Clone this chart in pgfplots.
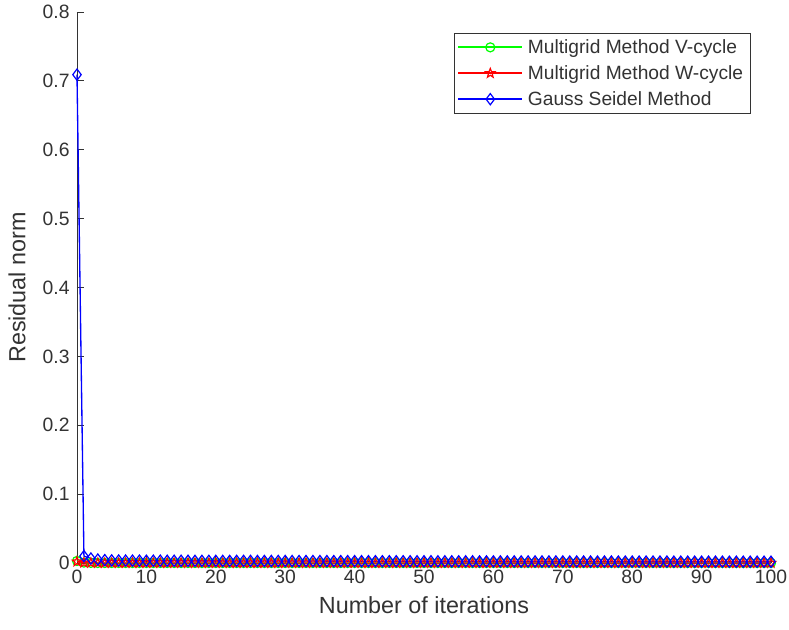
\documentclass[border=0pt]{standalone}
\usepackage{pgfplots}
\pgfplotsset{compat=1.18}
\usepackage{pgfplotstable}
\usepackage{fontspec}
\setmainfont{Liberation Sans}
\usetikzlibrary{calc}
\definecolor{txt}{RGB}{51,51,51}
\definecolor{mgreen}{RGB}{0,255,0}
\definecolor{mred}{RGB}{255,0,0}
\definecolor{mblue}{RGB}{0,0,255}
\pgfdeclareplotmark{pentagram}{%
  \pgfpathmoveto{\pgfpointpolar{90}{\pgfplotmarksize}}%
  \pgfpathlineto{\pgfpointpolar{126}{0.42\pgfplotmarksize}}%
  \pgfpathlineto{\pgfpointpolar{162}{\pgfplotmarksize}}%
  \pgfpathlineto{\pgfpointpolar{198}{0.42\pgfplotmarksize}}%
  \pgfpathlineto{\pgfpointpolar{234}{\pgfplotmarksize}}%
  \pgfpathlineto{\pgfpointpolar{270}{0.42\pgfplotmarksize}}%
  \pgfpathlineto{\pgfpointpolar{306}{\pgfplotmarksize}}%
  \pgfpathlineto{\pgfpointpolar{342}{0.42\pgfplotmarksize}}%
  \pgfpathlineto{\pgfpointpolar{18}{\pgfplotmarksize}}%
  \pgfpathlineto{\pgfpointpolar{54}{0.42\pgfplotmarksize}}%
  \pgfpathclose
  \pgfusepathqstroke
}
% legend image: line + centred mark, stroke colour set at pgf level
\newcommand{\legimg}[3]{%
  \pgfsetlinewidth{1.4pt}%
  \pgfsetstrokecolor{#1}%
  \pgfpathmoveto{\pgfpoint{0pt}{0pt}}%
  \pgfpathlineto{\pgfpoint{48pt}{0pt}}%
  \pgfusepath{stroke}%
  \pgfsetlinewidth{0.9pt}%
  \pgfsetstrokecolor{#1}%
  \pgfplotmarksize=#3\relax
  \pgftransformshift{\pgfpoint{24pt}{0pt}}%
  \pgfuseplotmark{#2}}
\pgfplotstableread{
x v w g
0 0.0030 0.0020 0.7090
1 0.0006 0.0003 0.0100
2 0.0002 0.0001 0.0065
3 0 0 0.0050
4 0 0 0.0042
5 0 0 0.0038
6 0 0 0.0036
7 0 0 0.0035
8 0 0 0.0034
9 0 0 0.0034
10 0 0 0.0033
11 0 0 0.0033
12 0 0 0.0033
13 0 0 0.0032
14 0 0 0.0032
15 0 0 0.0032
16 0 0 0.0032
17 0 0 0.0031
18 0 0 0.0031
19 0 0 0.0031
20 0 0 0.0031
21 0 0 0.0030
22 0 0 0.0030
23 0 0 0.0030
24 0 0 0.0030
25 0 0 0.0030
26 0 0 0.0029
27 0 0 0.0029
28 0 0 0.0029
29 0 0 0.0029
30 0 0 0.0029
31 0 0 0.0028
32 0 0 0.0028
33 0 0 0.0028
34 0 0 0.0028
35 0 0 0.0028
36 0 0 0.0027
37 0 0 0.0027
38 0 0 0.0027
39 0 0 0.0027
40 0 0 0.0027
41 0 0 0.0026
42 0 0 0.0026
43 0 0 0.0026
44 0 0 0.0026
45 0 0 0.0026
46 0 0 0.0025
47 0 0 0.0025
48 0 0 0.0025
49 0 0 0.0025
50 0 0 0.0025
51 0 0 0.0025
52 0 0 0.0024
53 0 0 0.0024
54 0 0 0.0024
55 0 0 0.0024
56 0 0 0.0024
57 0 0 0.0024
58 0 0 0.0023
59 0 0 0.0023
60 0 0 0.0023
61 0 0 0.0023
62 0 0 0.0023
63 0 0 0.0023
64 0 0 0.0022
65 0 0 0.0022
66 0 0 0.0022
67 0 0 0.0022
68 0 0 0.0022
69 0 0 0.0022
70 0 0 0.0022
71 0 0 0.0021
72 0 0 0.0021
73 0 0 0.0021
74 0 0 0.0021
75 0 0 0.0021
76 0 0 0.0021
77 0 0 0.0021
78 0 0 0.0020
79 0 0 0.0020
80 0 0 0.0020
81 0 0 0.0020
82 0 0 0.0020
83 0 0 0.0020
84 0 0 0.0020
85 0 0 0.0020
86 0 0 0.0019
87 0 0 0.0019
88 0 0 0.0019
89 0 0 0.0019
90 0 0 0.0019
91 0 0 0.0019
92 0 0 0.0019
93 0 0 0.0019
94 0 0 0.0018
95 0 0 0.0018
96 0 0 0.0018
97 0 0 0.0018
98 0 0 0.0018
99 0 0 0.0018
100 0 0 0.0018
}\datatable
\begin{document}
\begin{tikzpicture}
\begin{axis}[
  scale only axis,
  width=520.5pt, height=413.25pt,
  xmin=0, xmax=100, ymin=0, ymax=0.8,
  xtick={0,10,...,100},
  ytick={0,0.1,0.2,0.3,0.4,0.5,0.6,0.7,0.8},
  axis x line*=bottom, axis y line*=left,
  axis line style={-, draw=txt, line width=0.7pt},
  tick align=inside,
  major tick length=5pt,
  tick style={draw=txt, line width=0.7pt},
  clip=false,
  /pgf/number format/assume math mode=true,
  yticklabel style={/pgf/number format/fixed, /pgf/number format/precision=1},
  tick label style={font=\fontsize{14.5}{16}\selectfont, text=txt},
  xticklabel style={yshift=-2pt},
  yticklabel style={xshift=-2pt},
  xlabel={Number of iterations},
  ylabel={Residual norm},
  label style={font=\fontsize{17.5}{20}\selectfont, text=txt},
  xlabel style={at={(axis description cs:0.5,-0.0762)}, anchor=center},
  ylabel style={at={(axis description cs:-0.0865,0.5)}, anchor=center, rotate=0},
  legend style={at={(0.971,0.962)}, anchor=north east, draw=txt, line width=0.7pt,
    font=\fontsize{14.4}{16}\selectfont, text=txt, fill=white,
    row sep=3.5pt, inner xsep=2pt, inner ysep=2.5pt,
    nodes={inner xsep=3.5pt}},
  legend cell align=left,
]
\addplot[draw=mgreen, color=mgreen, line width=1pt, mark=o, mark size=3.4pt, mark options={solid, draw=mgreen, line width=0.9pt},
  legend image code/.code={\legimg{mgreen}{o}{3.4pt}}] table[x=x,y=v] {\datatable};
\addlegendentry{Multigrid Method V-cycle}
\addplot[draw=mred, color=mred, line width=1pt, mark=pentagram, mark size=3.6pt, mark options={solid, draw=mred, line width=0.9pt},
  legend image code/.code={\legimg{mred}{pentagram}{3.6pt}}] table[x=x,y=w] {\datatable};
\addlegendentry{Multigrid Method W-cycle}
\addplot[draw=mblue, color=mblue, line width=1pt, mark=diamond, mark size=4.2pt, mark options={solid, draw=mblue, line width=0.9pt},
  legend image code/.code={\legimg{mblue}{diamond}{4.2pt}}] table[x=x,y=g] {\datatable};
\addlegendentry{Gauss Seidel Method}
\coordinate (sw) at (rel axis cs:0,0);
\coordinate (ne) at (rel axis cs:1,1);
\end{axis}
\pgfresetboundingbox
\path[use as bounding box] ($(sw)+(-57.75pt,-50.25pt)$) rectangle ($(ne)+(13.5pt,9pt)$);
\end{tikzpicture}
\end{document}
